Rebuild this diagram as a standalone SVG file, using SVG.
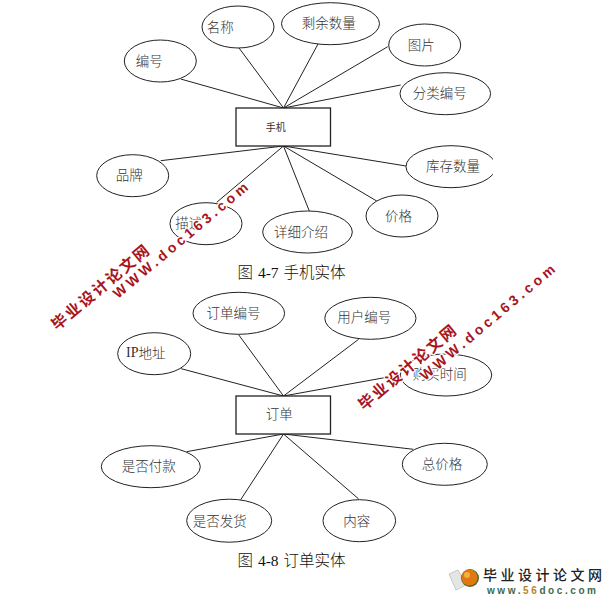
<svg xmlns="http://www.w3.org/2000/svg" width="612" height="597" viewBox="0 0 612 597">
<style>
text{font-family:"Noto Sans CJK SC","Liberation Serif",serif}
.e{fill:none;stroke:#222;stroke-width:1}
.r{fill:#fff;stroke:#222;stroke-width:1.3}
.c line{stroke:#222;stroke-width:1}
.l{font-size:13.5px;fill:#333;dominant-baseline:central;font-weight:300;transform:translateY(-1px)}
.cap{font-size:15.5px;fill:#111;font-weight:300}
.cap tspan{font-family:"Liberation Serif",serif}
.wz,.wu{fill:#a8141c;font-weight:700;stroke:#fff;stroke-width:2.5;paint-order:stroke;stroke-linejoin:round}
.wz{font-size:15.5px}
.wu{font-size:14px;font-family:"Liberation Sans",sans-serif}
</style>
<defs><clipPath id="cut"><rect x="0" y="0" width="493" height="597"/></clipPath></defs>
<rect width="612" height="597" fill="#fff"/>
<g id="connectors" class="c">
<line x1="283.5" y1="108" x2="180.7" y2="79"/>
<line x1="283.5" y1="108" x2="239" y2="48"/>
<line x1="283.5" y1="108" x2="318" y2="44"/>
<line x1="283.5" y1="108" x2="387.7" y2="46.7"/>
<line x1="283.5" y1="108" x2="400.7" y2="85"/>
<line x1="283.5" y1="146" x2="160.7" y2="160.7"/>
<line x1="283.5" y1="146" x2="216.7" y2="202.3"/>
<line x1="283.5" y1="146" x2="309.3" y2="211"/>
<line x1="283.5" y1="146" x2="376.7" y2="201"/>
<line x1="283.5" y1="146" x2="406" y2="166"/>
<line x1="283.5" y1="396" x2="181.2" y2="368.7"/>
<line x1="283.5" y1="396" x2="238.6" y2="334.7"/>
<line x1="283.5" y1="396" x2="358.6" y2="339.3"/>
<line x1="283.5" y1="396" x2="401" y2="374.7"/>
<line x1="283.5" y1="434" x2="186.7" y2="451.7"/>
<line x1="283.5" y1="434" x2="240.7" y2="499.7"/>
<line x1="283.5" y1="434" x2="358.7" y2="499"/>
<line x1="283.5" y1="434" x2="413.3" y2="449.3"/>
</g>
<g id="n-phone"><rect class="r" x="236" y="108" width="94.5" height="38"/><text x="265.7" y="126" dominant-baseline="central" font-size="10" fill="#333">手机</text></g>
<g id="n-bianhao"><ellipse class="e" cx="160.3" cy="61" rx="36" ry="21"/><text class="l" x="135.7" y="61">编号</text></g>
<g id="n-mingcheng"><ellipse class="e" cx="238" cy="27" rx="36" ry="21"/><text class="l" x="206.7" y="27">名称</text></g>
<g id="n-shengyu"><ellipse class="e" cx="330.5" cy="23.7" rx="49" ry="21"/><text class="l" x="301.7" y="23">剩余数量</text></g>
<g id="n-tupian"><ellipse class="e" cx="424.7" cy="45" rx="36" ry="21"/><text class="l" x="407.7" y="45">图片</text></g>
<g id="n-fenlei"><ellipse class="e" cx="445.3" cy="93.7" rx="45.3" ry="21"/><text class="l" x="412.7" y="93">分类编号</text></g>
<g id="n-pinpai"><ellipse class="e" cx="132.7" cy="175.7" rx="36" ry="21"/><text class="l" x="115.7" y="175">品牌</text></g>
<g id="n-miaoshu"><ellipse class="e" cx="206" cy="223.7" rx="36" ry="21"/><text class="l" x="175.3" y="222.7">描述</text></g>
<g id="n-xiangxi"><ellipse class="e" cx="307.5" cy="232" rx="44.8" ry="21"/><text class="l" x="274" y="231.7">详细介绍</text></g>
<g id="n-jiage"><ellipse class="e" cx="402" cy="216" rx="36" ry="21"/><text class="l" x="385" y="216">价格</text></g>
<g id="n-kucun"><ellipse class="e" cx="451" cy="166.7" rx="45" ry="21" clip-path="url(#cut)"/><text class="l" x="426" y="165.7">库存数量</text></g>
<text class="cap" x="237.5" y="278" word-spacing="1.5">图 <tspan>4-7</tspan> 手机实体</text>
<g id="n-order"><rect class="r" x="236" y="396" width="94.5" height="38"/><text class="l" x="265.7" y="414">订单</text></g>
<g id="n-ordernum"><ellipse class="e" cx="238.8" cy="313.3" rx="45.8" ry="21"/><text class="l" x="206.5" y="312.7">订单编号</text></g>
<g id="n-usernum"><ellipse class="e" cx="370.4" cy="318.3" rx="45.6" ry="21"/><text class="l" x="337.3" y="317">用户编号</text></g>
<g id="n-ip"><ellipse class="e" cx="154.2" cy="353.7" rx="36.5" ry="21"/><text class="l" x="126" y="353"><tspan font-family="Liberation Serif" font-size="14" font-weight="400">IP</tspan>地址</text></g>
<g id="n-buytime"><ellipse class="e" cx="446" cy="375" rx="45.7" ry="21"/><text class="l" x="412.7" y="374">购买时间</text></g>
<g id="n-paid"><ellipse class="e" cx="150.8" cy="466.7" rx="49.5" ry="21"/><text class="l" x="121.7" y="465.7">是否付款</text></g>
<g id="n-shipped"><ellipse class="e" cx="229.2" cy="520.7" rx="42.5" ry="21.5"/><text class="l" x="192.7" y="520.7">是否发货</text></g>
<g id="n-content"><ellipse class="e" cx="359.3" cy="520.7" rx="36.3" ry="21"/><text class="l" x="343.3" y="520.7">内容</text></g>
<g id="n-total"><ellipse class="e" cx="444.8" cy="464.3" rx="42.5" ry="21"/><text class="l" x="421.7" y="464">总价格</text></g>
<text class="cap" x="237.5" y="566" word-spacing="1.5">图 <tspan>4-8</tspan> 订单实体</text>
<g id="watermarks">
<text class="wz" transform="translate(57 331) rotate(-40)" textLength="122" lengthAdjust="spacing">毕业设计论文网</text>
<text class="wu" transform="translate(118 299) rotate(-40)" textLength="171" lengthAdjust="spacing">WWW.doc163.com</text>
<text class="wz" transform="translate(364 411) rotate(-40)" textLength="122" lengthAdjust="spacing">毕业设计论文网</text>
<text class="wu" transform="translate(425 381) rotate(-40)" textLength="171" lengthAdjust="spacing">WWW.doc163.com</text>
</g>
<g id="footer-logo">
<polygon points="449,574 458,570 466,585 456,590" fill="#e4e6e4" stroke="#c8cac8" stroke-width="1"/>
<circle cx="470" cy="578" r="9" fill="#4f6b3a"/>
<circle cx="469.5" cy="577.5" r="8" fill="#e07a10"/>
<circle cx="467" cy="575" r="3" fill="#f6b040"/>
<text x="483" y="580" font-size="14" font-weight="500" fill="#222" textLength="119" lengthAdjust="spacing">毕业设计论文网</text>
<text x="487" y="593.5" font-size="10" font-weight="700" fill="#3d6b4d" textLength="109" lengthAdjust="spacing" style="font-family:'Liberation Sans',sans-serif">www.<tspan fill="#b8842a">56</tspan>doc.com</text>
</g>
</svg>
